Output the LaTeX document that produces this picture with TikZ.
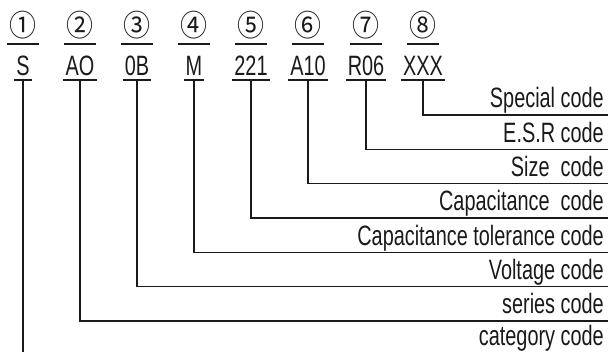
\documentclass[tikz,border=0pt]{standalone}
\usepackage{fontspec}
\setmainfont{Liberation Sans}[FakeStretch=0.71]
\newfontfamily\circfont{Noto Sans CJK SC}[FakeStretch=0.9]
\definecolor{ink}{HTML}{1A1A1A}
\begin{document}
\begin{tikzpicture}[x=1pt,y=-1pt,
  lab/.style={anchor=south, inner xsep=2pt, inner ysep=4pt, text depth=0pt, text=ink, font=\fontsize{28}{28}\selectfont},
  num/.style={anchor=south, minimum width=32pt, inner xsep=0pt, inner ysep=7pt, text depth=0pt, text=ink, font=\circfont\fontsize{30}{30}\selectfont},
  desc/.style={anchor=south east, inner xsep=4pt, inner ysep=7pt, text depth=0pt, text=ink, font=\fontsize{28}{28}\selectfont},
  link/.style={draw=ink, line width=1.2pt}]
\useasboundingbox (0,0) rectangle (611,352);
% circled numbers
\node[num] (n1) at (23,44) {①};
\node[num] (n2) at (80,44) {②};
\node[num] (n3) at (137,44) {③};
\node[num] (n4) at (194,44) {④};
\node[num] (n5) at (251,44) {⑤};
\node[num] (n6) at (308,44) {⑥};
\node[num] (n7) at (366,44) {⑦};
\node[num] (n8) at (423,44) {⑧};
% code labels
\node[lab] (l1) at (23,80) {S};
\node[lab] (l2) at (80,80) {AO};
\node[lab] (l3) at (137,80) {0B};
\node[lab] (l4) at (194,80) {M};
\node[lab] (l5) at (251,80) {221};
\node[lab] (l6) at (308,80) {A10};
\node[lab] (l7) at (366,80) {R06};
\node[lab] (l8) at (423,80) {XXX};
% descriptions
\node[desc] (d8) at (608,115) {Special code};
\node[desc] (d7) at (608,149.3) {E.S.R code};
\node[desc] (d6) at (608,183.7) {Size\ \ code};
\node[desc] (d5) at (608,218) {Capacitance\ \ code};
\node[desc] (d4) at (608,252.3) {Capacitance tolerance code};
\node[desc] (d3) at (608,286.7) {Voltage code};
\node[desc] (d2) at (608,321) {series code};
\node[desc] (d1) at (608,352.5) {category code};
\coordinate (e1) at (23,352);
% over/underlines
\foreach \i in {1,...,8}{
  \draw[link] (n\i.south west) -- (n\i.south east);
  \draw[link] (l\i.south west) -- (l\i.south east);
}
% connectors
\draw[link] (l1.south) -- (e1);
\draw[link] (l2.south) |- (d2.south east);
\draw[link] (l3.south) |- (d3.south east);
\draw[link] (l4.south) |- (d4.south east);
\draw[link] (l5.south) |- (d5.south east);
\draw[link] (l6.south) |- (d6.south east);
\draw[link] (l7.south) |- (d7.south east);
\draw[link] (l8.south) |- (d8.south east);
\end{tikzpicture}
\end{document}
